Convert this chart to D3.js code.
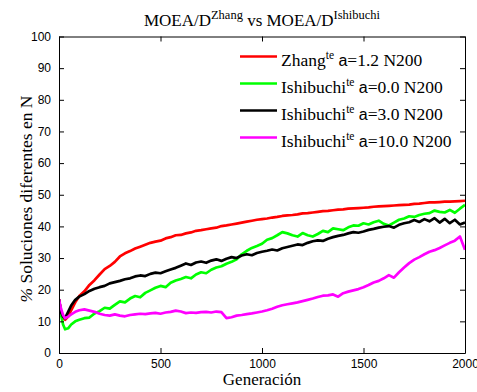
<!DOCTYPE html>
<html><head><meta charset="utf-8">
<script src="https://cdn.jsdelivr.net/npm/d3@7"></script>
<style>body{margin:0;background:#fff}svg{display:block}
.serif{font-family:"Liberation Serif","Times New Roman",Times,serif}
.sans{font-family:"Liberation Sans",Arial,Helvetica,sans-serif}
</style>
</head><body>
<script>
const generations = [0,10,20,30,45,60,80,100,125,150,175,200,225,250,275,300,325,350,375,400,425,450,475,500,525,550,575,600,625,650,675,700,725,750,775,800,825,850,875,900,925,950,975,1000,1025,1050,1075,1100,1125,1150,1175,1200,1225,1250,1275,1300,1325,1350,1375,1400,1425,1450,1475,1500,1525,1550,1575,1600,1625,1650,1675,1700,1725,1750,1775,1800,1825,1850,1875,1900,1925,1950,1975,2000];
const zhang12 = [17,13,11,10.5,11.5,13.5,16,18,19.5,21.5,23,24.8,26.5,27.5,28.8,30.5,31.5,32.2,33,33.6,34.2,34.8,35.2,35.5,36.2,36.6,37.2,37.3,37.8,38.1,38.6,38.8,39.1,39.4,39.6,40.1,40.3,40.6,40.9,41.2,41.5,41.8,42.1,42.3,42.5,42.8,43,43.3,43.5,43.6,43.8,44.1,44.2,44.4,44.6,44.8,44.9,45.1,45.3,45.4,45.6,45.7,45.8,45.9,46,46.2,46.3,46.4,46.5,46.6,46.7,46.8,46.9,47.1,47.2,47.4,47.6,47.6,47.7,47.8,47.8,47.9,48,48.1];
const ishi00 = [16,12,9,7.5,7.8,9,10,10.5,11,11.2,12.5,13.2,14.3,14,15.2,16.3,16,17.2,18,17.6,19,19.8,20.6,21.2,20.8,22.2,22.9,23.4,24,23.6,24.8,25.5,25.2,26.3,27,27.4,28.2,28.8,29.6,31.2,32.3,33.2,33.8,34.5,35.8,36.3,37.2,38.2,37.8,37.2,36.8,37.9,37.2,36.8,37.6,38.6,38.2,39.4,39.1,38.8,39.7,40.3,40.2,41,40.6,41.3,41.8,40.8,40.3,41.2,42.1,42.5,43.2,43,43.6,44,44.2,45,44.6,44.4,45.2,44.3,45.6,46.8];
const ishi30 = [17,13,11.5,11,13,15,16.8,17.8,18.6,19.6,20.3,20.8,21.2,22,22.4,22.8,23.3,23.6,24.2,24.5,24.3,25,25.4,25.2,25.8,26.4,26.9,27.6,28.3,27.8,28.6,28.9,28.5,29.2,29.6,29.1,29.8,30.3,30,30.8,31.2,30.9,31.6,32,32.3,32.7,32.4,33.1,33.5,33.9,34.3,34.1,34.8,35.3,35.6,35.4,36.1,36.6,37,37.3,37.8,38.2,38,38.4,38.9,39.2,39.6,39.9,40.1,39.6,40.5,41,41.3,42,41.4,42.3,41.6,42.6,41.2,42.4,41,42.1,40.6,41.2];
const ishi100 = [17,14,12,11,11.5,12.2,13,13.5,13.8,13.4,13,12.4,12,11.8,12.2,11.8,11.6,12,12.2,12.4,12.3,12.5,12.7,12.4,12.8,13,13.4,13.1,12.6,12.8,12.7,12.9,13,12.8,13.1,12.9,11,11.3,11.8,12,12.3,12.5,12.8,13.1,13.5,14,14.6,15.1,15.4,15.7,16,16.4,16.8,17.2,17.7,18.1,18.2,18.5,17.8,18.9,19.4,19.8,20.2,20.8,21.5,22.3,22.8,23.6,24.6,23.8,25.5,27,28.4,29.5,30.3,31.2,32,32.5,33.2,34,34.8,35.5,36.8,32.6];
const seriesNames = ["Zhang","Ishibuchi","Ishibuchi","Ishibuchi"];
const seriesParams = ["a=1.2","a=0.0","a=3.0","a=10.0"];
const seriesColors = ["#ff0000","#00ff00","#000000","#ff00ff"];
const xTicks = [0,500,1000,1500,2000];
const yTicks = [0,10,20,30,40,50,60,70,80,90,100];

const W = 477, H = 392;
const m = {l:59, r:12, t:36.5, b:39};
const svg = d3.select("body").append("svg").attr("width",W).attr("height",H);
const x = d3.scaleLinear().domain([0,2000]).range([m.l, W-m.r]);
const y = d3.scaleLinear().domain([0,100]).range([H-m.b, m.t]);

const data = [zhang12, ishi00, ishi30, ishi100];
const line = d3.line().x((d,i)=>x(generations[i])).y(d=>y(d));
svg.append("clipPath").attr("id","c").append("rect")
  .attr("x",m.l).attr("y",m.t).attr("width",W-m.r-m.l).attr("height",H-m.b-m.t);
const gl = svg.append("g").attr("clip-path","url(#c)");
data.forEach((s,k)=>{
  gl.append("path").datum(s).attr("d",line).attr("fill","none")
    .attr("stroke",seriesColors[k]).attr("stroke-width",2.7).attr("stroke-linejoin","round");
});

const axB = d3.axisBottom(x).tickValues(xTicks).tickSizeInner(-5).tickSizeOuter(0).tickPadding(6).tickFormat(d3.format("d"));
const axT = d3.axisTop(x).tickValues(xTicks).tickSizeInner(-5).tickSizeOuter(0).tickFormat("");
const axL = d3.axisLeft(y).tickValues(yTicks).tickSizeInner(-5).tickSizeOuter(0).tickPadding(8);
const axR = d3.axisRight(y).tickValues(yTicks).tickSizeInner(-5).tickSizeOuter(0).tickFormat("");
function style(g){
  g.attr("font-family",null).attr("font-size",null);
  g.selectAll(".domain").attr("stroke","#000").attr("stroke-width",1);
  g.selectAll(".tick line").attr("stroke","#000");
  g.selectAll("text").attr("class","sans").style("font-size","12px").attr("fill","#000");
}
svg.append("g").attr("transform",`translate(0,${H-m.b})`).call(axB).call(style);
svg.append("g").attr("transform",`translate(0,${m.t})`).call(axT).call(style);
svg.append("g").attr("transform",`translate(${m.l},0)`).call(axL).call(style);
svg.append("g").attr("transform",`translate(${W-m.r},0)`).call(axR).call(style);

const t = svg.append("text").attr("class","serif").attr("x",(m.l+W-m.r)/2).attr("y",26).attr("text-anchor","middle")
  .style("font-size","17px").attr("fill","#000");
t.append("tspan").text("MOEA/D");
t.append("tspan").attr("dy",-7).style("font-size","12.5px").text("Zhang");
t.append("tspan").attr("dy",7).text(" vs MOEA/D");
t.append("tspan").attr("dy",-7).style("font-size","12.5px").text("Ishibuchi");

svg.append("text").attr("class","serif").attr("x",(m.l+W-m.r)/2).attr("y",385).attr("text-anchor","middle")
  .style("font-size","17px").text("Generación");

const yl = svg.append("text").attr("class","serif").attr("transform",`translate(32,199) rotate(-90)`)
  .attr("text-anchor","middle").style("font-size","17.5px");
yl.append("tspan").style("font-style","italic").text("%");
yl.append("tspan").text(" Soluciones diferentes en N");

const ly0 = 56.5, ldy = 27;
data.forEach((s,k)=>{
  const yy = ly0 + k*ldy;
  svg.append("line").attr("x1",240).attr("x2",277).attr("y1",yy).attr("y2",yy)
    .attr("stroke",seriesColors[k]).attr("stroke-width",2.7);
  const tx = svg.append("text").attr("class","serif").attr("x",281).attr("y",yy+9.5).style("font-size","17.5px");
  tx.append("tspan").text(seriesNames[k]);
  tx.append("tspan").attr("dy",-7).style("font-size","11.5px").text("te");
  tx.append("tspan").attr("dy",7).text(" ");
  tx.append("tspan").attr("class","sans").style("font-size","16px").text(seriesParams[k].slice(0,1));
  tx.append("tspan").text(seriesParams[k].slice(1) + " N200");
});
</script>
</body></html>
